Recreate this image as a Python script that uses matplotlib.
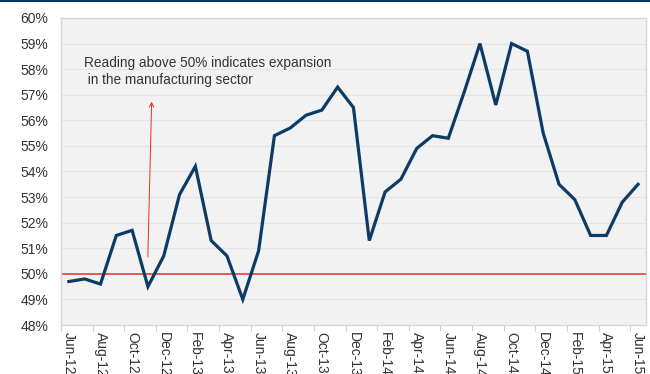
import numpy as np
import pandas as pd
import matplotlib
matplotlib.use("Agg")
import matplotlib.pyplot as plt
from matplotlib.ticker import FixedLocator, FuncFormatter

plt.rcParams['font.family'] = ['Liberation Sans', 'DejaVu Sans']

# ISM manufacturing PMI, monthly Jun-2012 .. Jun-2015
months = pd.date_range('2012-06-01', '2015-06-01', freq='MS')
month_labels = [d.strftime('%b-%y') for d in months]
pmi = [49.7, 49.8, 49.6, 51.5, 51.7, 49.5, 50.7, 53.1, 54.2, 51.3,
       50.7, 49.0, 50.9, 55.4, 55.7, 56.2, 56.4, 57.3, 56.5, 51.3,
       53.2, 53.7, 54.9, 55.4, 55.3, 57.1, 59.0, 56.6, 59.0, 58.7,
       55.5, 53.5, 52.9, 51.5, 51.5, 52.8, 53.5]
y_ticks = list(range(48, 61))
threshold = 50
note = "Reading above 50% indicates expansion\n in the manufacturing sector"

navy = '#0d3b66'
text_col = '#333333'

fig = plt.figure(figsize=(6.5, 3.74), dpi=100)
fig.patch.set_facecolor('white')
# thin navy band along the top edge
fig.add_artist(plt.Rectangle((0, 0.994), 1, 0.006, transform=fig.transFigure,
                             color='#0a3560', lw=0))

ax = fig.add_axes([0.0938, 0.131, 0.9, 0.8209])
ax.set_facecolor('#f2f2f2')

x = np.arange(len(pmi))
ax.plot(x, pmi, color=navy, lw=2.3, solid_joinstyle='miter', zorder=3)
ax.axhline(threshold, color='#e8302a', lw=1.1, zorder=2)

ax.set_xlim(-0.5, len(pmi) - 0.5)
ax.set_ylim(y_ticks[0], y_ticks[-1])
ax.set_yticks(y_ticks)
ax.yaxis.set_major_formatter(FuncFormatter(lambda v, p: f"{v:.0f}%"))
ax.grid(axis='y', color='#e4e4e4', lw=0.8)
ax.set_axisbelow(True)

# labels every other month, tick marks on the category boundaries
ax.set_xticks(x[::2])
ax.set_xticklabels(month_labels[::2], rotation=-90, va='top', ha='center')
ax.xaxis.set_minor_locator(FixedLocator(np.arange(-0.5, len(pmi) - 1, 2)))
ax.tick_params(axis='x', which='major', length=0, pad=5, labelsize=10,
               labelcolor=text_col)
ax.tick_params(axis='x', which='minor', length=4, color='#d0d0d0', width=0.8)
ax.tick_params(axis='y', length=0, pad=9, labelsize=10, labelcolor=text_col)

for side in ['left', 'bottom', 'top', 'right']:
    ax.spines[side].set_color('#d6d6d6')
    ax.spines[side].set_linewidth(1.0)

ax.annotate('', xy=(5.24, 56.84), xytext=(4.99, 50.55),
            arrowprops=dict(arrowstyle='->', color='#e8302a', lw=0.7,
                            mutation_scale=8))
ax.text(0.95, 57.92, note, fontsize=9.8, color='#333333', va='center',
        ha='left', linespacing=1.3)

fig.savefig('out.png', dpi=100)
